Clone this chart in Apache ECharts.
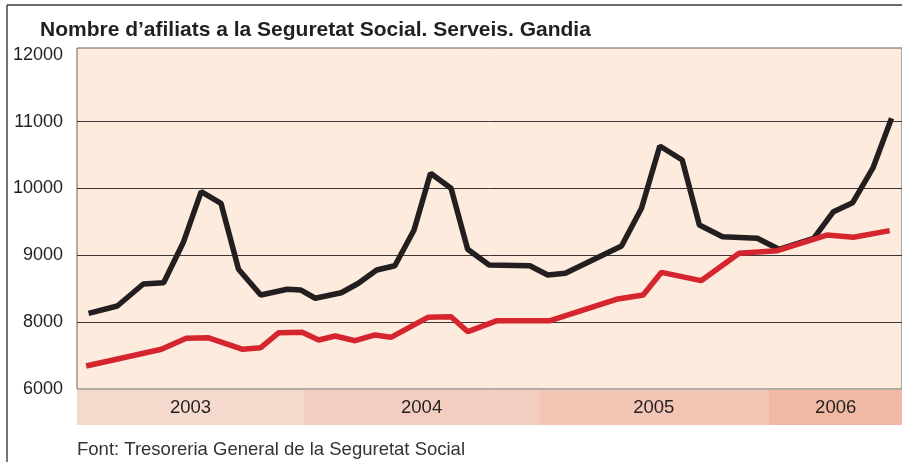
<!DOCTYPE html>
<html>
<head>
<meta charset="utf-8">
<title>Nombre d'afiliats a la Seguretat Social. Serveis. Gandia</title>
<script src="https://cdn.jsdelivr.net/npm/echarts@6/dist/echarts.min.js"></script>
<style>
    html, body { margin: 0; padding: 0; background: #fff; }
    #chart { width: 902px; height: 462px; }
</style>
</head>
<body>
<div id="chart"></div>
<script>
// mesos des de gener 2003 (0 = gen 2003), llegits de la gràfica
const totalMonths = [0, 1.54, 2.93, 4.02, 5.09, 6.03, 7.09, 8.03, 9.22, 10.64, 11.35, 12.14, 13.53, 14.43, 15.43, 16.40, 17.43, 18.31, 19.41, 20.30, 21.45, 23.63, 24.59, 25.53, 28.54, 29.61, 30.59, 31.79, 32.71, 33.95, 35.81, 36.97, 38.83, 39.89, 40.92, 42.02, 43.0];
const totalValues = [8132, 8241, 8570, 8590, 9203, 9951, 9777, 8790, 8406, 8491, 8481, 8357, 8440, 8578, 8780, 8844, 9378, 10226, 10002, 9089, 8855, 8844, 8705, 8730, 9139, 9703, 10634, 10425, 9453, 9278, 9254, 9089, 9254, 9652, 9786, 10316, 11049];

const serveisMonths = [-0.13, 3.90, 5.23, 6.39, 8.26, 9.22, 10.19, 11.44, 12.32, 13.21, 14.27, 15.34, 16.19, 18.17, 19.41, 20.31, 21.88, 24.72, 28.26, 29.70, 30.68, 32.80, 34.84, 36.88, 39.54, 40.96, 42.90];
const serveisValues = [6688, 7188, 7516, 7534, 7188, 7236, 7684, 7696, 7466, 7586, 7444, 7616, 7546, 8072, 8081, 7714, 8022, 8022, 8342, 8406, 8745, 8620, 9030, 9068, 9303, 9269, 9368];

const years = ["2003", "2004", "2005", "2006"];
const yearStart = [-0.62, 11.45, 23.95, 36.13];
const yearEnd = [11.45, 23.95, 36.13, 43.3];
const yearColors = ["#f5d9cd", "#f3cdbf", "#f2c5b4", "#efb9a4"];

const yTicks = [8000, 9000, 10000, 11000];

// l'eix està trencat: el tram 6000-8000 ocupa el mateix que 1000
function toAxis(v) {
    return v < 8000 ? 7000 + (v - 6000) / 2 : v;
}

const xMin = -0.62;
const xMax = 43.24;
const font = "'Liberation Sans', Arial, sans-serif";

const chart = echarts.init(document.getElementById("chart"));

const option = {
    animation: false,
    title: {
        text: "Nombre d’afiliats a la Seguretat Social. Serveis. Gandia",
        left: 35,
        top: 15,
        textStyle: { fontFamily: font, fontSize: 21, fontWeight: "bold", color: "#231f20" },
    },
    grid: [
        { left: 77, right: -6, top: 48, height: 341, show: true, backgroundColor: "#fdebdd", borderColor: "#6b6361", borderWidth: 1 },
        { left: 77, right: 0, top: 390, height: 35 },
    ],
    xAxis: [
        { type: "value", gridIndex: 0, min: xMin, max: xMax + 0.32, show: false },
        { type: "value", gridIndex: 1, min: xMin, max: xMax, show: false },
    ],
    yAxis: [
        {
            type: "value",
            gridIndex: 0,
            min: 7000,
            max: 12100,
            interval: 1000,
            axisLine: { show: false },
            axisTick: { show: false },
            splitLine: { show: false },
            axisLabel: {
                color: "#231f20",
                fontFamily: font,
                fontSize: 18,
                margin: 14,
                showMaxLabel: false,
                formatter: (v) => (v === 7000 ? "6000" : v > 12000 ? "" : String(v)),
            },
        },
        { type: "value", gridIndex: 1, min: 0, max: 1, show: false },
    ],
    series: [
        {
            type: "custom",
            xAxisIndex: 1,
            yAxisIndex: 1,
            silent: true,
            renderItem: (params, api) => {
                const i = params.dataIndex;
                const p0 = api.coord([yearStart[i], 1]);
                const p1 = api.coord([yearEnd[i], 0]);
                return {
                    type: "group",
                    children: [
                        {
                            type: "rect",
                            shape: { x: p0[0], y: p0[1], width: p1[0] - p0[0], height: p1[1] - p0[1] },
                            style: { fill: yearColors[i] },
                        },
                        {
                            type: "text",
                            x: (p0[0] + p1[0]) / 2,
                            y: (p0[1] + p1[1]) / 2,
                            style: {
                                text: years[i],
                                fill: "#231f20",
                                font: "18.5px " + font,
                                align: "center",
                                verticalAlign: "middle",
                            },
                        },
                    ],
                };
            },
            data: years.map((y, i) => [yearStart[i], yearEnd[i]]),
        },
        {
            name: "Total",
            type: "line",
            xAxisIndex: 0,
            yAxisIndex: 0,
            symbol: "none",
            lineStyle: { color: "#231f20", width: 5.5 },
            data: totalMonths.map((m, i) => [m, toAxis(totalValues[i])]),
            markLine: {
                silent: true,
                symbol: "none",
                label: { show: false },
                lineStyle: { color: "#3b3536", width: 1, type: "solid" },
                data: yTicks.map((v) => ({ yAxis: v })),
                z: 1,
            },
            z: 3,
        },
        {
            name: "Serveis",
            type: "line",
            xAxisIndex: 0,
            yAxisIndex: 0,
            symbol: "none",
            lineStyle: { color: "#d52630", width: 5.5 },
            data: serveisMonths.map((m, i) => [m, toAxis(serveisValues[i])]),
            z: 4,
        },
    ],
    graphic: [
        { type: "line", shape: { x1: 7, y1: 5, x2: 902, y2: 5 }, style: { stroke: "#3a3a3a", lineWidth: 1.4 } },
        { type: "line", shape: { x1: 7, y1: 5, x2: 7, y2: 462 }, style: { stroke: "#3a3a3a", lineWidth: 1.4 } },
        {
            type: "text",
            left: 77,
            top: 440,
            style: { text: "Font: Tresoreria General de la Seguretat Social", fill: "#333", font: "18.5px " + font },
        },
    ],
};

chart.setOption(option);
</script>
</body>
</html>
